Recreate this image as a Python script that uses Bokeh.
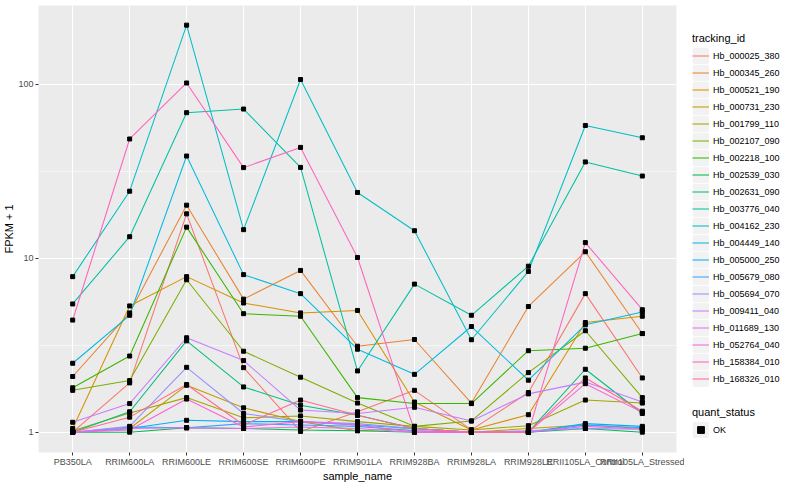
from bokeh.plotting import figure
from bokeh.models import (FactorRange, Range1d, FixedTicker, Legend, LegendItem,
                          ColumnDataSource)
from bokeh.layouts import row
from bokeh.embed import file_html
from bokeh.resources import INLINE

# ---------------- data ----------------
samples = ["PB350LA", "RRIM600LA", "RRIM600LE", "RRIM600SE", "RRIM600PE",
           "RRIM901LA", "RRIM928BA", "RRIM928LA", "RRIM928LE",
           "RRII105LA_Control", "RRII105LA_Stressed"]

tracking_ids = ["Hb_000025_380", "Hb_000345_260", "Hb_000521_190", "Hb_000731_230",
                "Hb_001799_110", "Hb_002107_090", "Hb_002218_100", "Hb_002539_030",
                "Hb_002631_090", "Hb_003776_040", "Hb_004162_230", "Hb_004449_140",
                "Hb_005000_250", "Hb_005679_080", "Hb_005694_070", "Hb_009411_040",
                "Hb_011689_130", "Hb_052764_040", "Hb_158384_010", "Hb_168326_010"]

colors = ["#F8766D", "#EA8331", "#D89000", "#C09B00", "#A3A500", "#7CAE00",
          "#39B600", "#00BB4E", "#00BF7D", "#00C1A3", "#00BFC4", "#00BAE0",
          "#00B0F6", "#35A2FF", "#9590FF", "#C77CFF", "#E76BF3", "#FA62DB",
          "#FF62BC", "#FF6C91"]

# FPKM + 1 per sample (order of `samples`)
hb_000025_380 = [1.00, 1.92, 18.0, 2.35, 1.01, 1.31, 1.74, 1.03, 1.69, 6.26, 2.05]
hb_000345_260 = [2.09, 4.85, 20.2, 5.82, 8.51, 3.12, 3.41, 1.47, 5.28, 10.9, 3.69]
hb_000521_190 = [1.05, 5.32, 7.84, 5.53, 4.85, 5.01, 1.49, 1.03, 1.26, 4.27, 4.64]
hb_000731_230 = [1.00, 1.05, 1.86, 1.38, 1.15, 1.02, 1.05, 1.00, 1.05, 1.10, 1.05]
hb_001799_110 = [1.02, 1.29, 1.58, 1.21, 1.24, 1.15, 1.08, 1.03, 1.09, 1.53, 1.47]
hb_002107_090 = [1.74, 1.98, 7.52, 2.92, 2.07, 1.47, 1.08, 1.16, 2.20, 3.83, 1.58]
hb_002218_100 = [1.80, 2.74, 15.1, 4.80, 4.64, 1.58, 1.46, 1.46, 2.94, 3.04, 3.69]
hb_002539_030 = [1.00, 1.00, 1.06, 1.05, 1.03, 1.02, 1.00, 1.00, 1.00, 1.05, 1.00]
hb_002631_090 = [1.00, 1.31, 3.35, 1.82, 1.43, 1.25, 1.05, 1.00, 1.00, 2.30, 1.28]
hb_003776_040 = [5.46, 13.3, 68.7, 72.1, 33.3, 2.25, 7.10, 4.70, 9.00, 35.8, 29.7]
hb_004162_230 = [7.84, 24.3, 219.0, 14.6, 106.6, 23.9, 14.4, 3.40, 8.40, 58.0, 49.3]
hb_004449_140 = [2.49, 4.70, 38.7, 8.05, 6.26, 3.00, 2.15, 4.05, 1.99, 4.14, 4.91]
hb_005000_250 = [1.00, 1.05, 1.17, 1.15, 1.15, 1.10, 1.05, 1.00, 1.00, 1.12, 1.08]
hb_005679_080 = [1.00, 1.07, 1.06, 1.12, 1.10, 1.08, 1.02, 1.00, 1.00, 1.10, 1.06]
hb_005694_070 = [1.00, 1.08, 2.36, 1.28, 1.15, 1.12, 1.05, 1.00, 1.02, 1.05, 1.04]
hb_009411_040 = [1.14, 1.46, 3.49, 2.58, 1.34, 1.28, 1.39, 1.16, 1.66, 1.94, 1.49]
hb_011689_130 = [1.00, 1.05, 1.06, 1.05, 1.07, 1.05, 1.00, 1.00, 1.00, 1.08, 1.04]
hb_052764_040 = [1.00, 1.03, 1.55, 1.07, 1.15, 1.10, 1.00, 1.00, 1.00, 1.90, 1.30]
hb_158384_010 = [4.41, 48.5, 101.8, 33.2, 43.4, 10.1, 1.02, 1.00, 1.00, 12.3, 5.06]
hb_168326_010 = [1.00, 1.22, 1.88, 1.10, 1.53, 1.25, 1.05, 1.00, 1.00, 2.05, 1.32]

series = [hb_000025_380, hb_000345_260, hb_000521_190, hb_000731_230, hb_001799_110,
          hb_002107_090, hb_002218_100, hb_002539_030, hb_002631_090, hb_003776_040,
          hb_004162_230, hb_004449_140, hb_005000_250, hb_005679_080, hb_005694_070,
          hb_009411_040, hb_011689_130, hb_052764_040, hb_158384_010, hb_168326_010]

y_ticks = [1, 10, 100]
y_tick_labels = ["1", "10", "100"]
y_minor = [3.162, 31.62]
quant_status = ["OK"]

FONT = "Liberation Sans"

# ---------------- main plot ----------------
p = figure(width=684, height=484,
           x_range=FactorRange(factors=samples, range_padding=0.1,
                               range_padding_units="absolute"),
           y_range=Range1d(0.764, 284.0), y_axis_type="log",
           toolbar_location=None, output_backend="svg",
           min_border_left=30, min_border_right=8, min_border_top=5,
           min_border_bottom=0,
           background_fill_color="#EBEBEB", border_fill_color="white",
           outline_line_color=None)

p.yaxis.ticker = FixedTicker(ticks=y_ticks, minor_ticks=y_minor)
p.yaxis.major_label_overrides = dict(zip(y_ticks, y_tick_labels))

p.xgrid.grid_line_color = "white"
p.xgrid.grid_line_width = 1.1
p.ygrid.grid_line_color = "white"
p.ygrid.grid_line_width = 1.1
p.ygrid.minor_grid_line_color = "white"
p.ygrid.minor_grid_line_width = 0.55

for ax in (p.xaxis, p.yaxis):
    ax.axis_line_color = None
    ax.major_tick_line_color = "#333333"
    ax.major_tick_out = 3
    ax.major_tick_in = 0
    ax.minor_tick_line_color = None
    ax.major_label_text_font = FONT
    ax.major_label_text_font_size = "9px"
    ax.major_label_text_color = "#4D4D4D"
    ax.major_label_standoff = 1
    ax.axis_label_text_font = FONT
    ax.axis_label_text_font_size = "11px"
    ax.axis_label_text_font_style = "normal"
    ax.axis_label_text_color = "black"
    ax.axis_label_standoff = 0

p.xaxis.axis_label = "sample_name"
p.yaxis.axis_label = "FPKM + 1"

for vals, col in zip(series, colors):
    p.line(x=samples, y=vals, line_color=col, line_width=1.05)

px, py = [], []
for vals in series:
    px.extend(samples)
    py.extend(vals)
p.scatter(x="x", y="y", source=ColumnDataSource(dict(x=px, y=py)),
          marker="square", size=4, color="black")

# ---------------- legend panel ----------------
leg = figure(width=100, height=484, x_range=Range1d(0, 1), y_range=Range1d(0, 1),
             toolbar_location=None, output_backend="svg",
             x_axis_location=None, y_axis_location=None,
             min_border_left=8, min_border_right=0,
             min_border_top=5, min_border_bottom=30,
             outline_line_color=None,
             background_fill_color="white", border_fill_color="white")
leg.xgrid.visible = False
leg.ygrid.visible = False

# legend-only renderers, kept outside the visible range of this panel
key_bg = leg.quad(left=[2], right=[3], top=[3], bottom=[2], fill_color="#F2F2F2",
                  line_color="#F2F2F2", line_width=3)

items = []
for tid, col in zip(tracking_ids, colors):
    lr = leg.line(x=[2, 3], y=[2, 2], line_color=col, line_width=1.05)
    items.append(LegendItem(label=tid, renderers=[key_bg, lr]))

pt = leg.scatter(x=[2], y=[2], marker="square", size=4, color="black")
items2 = [LegendItem(label=q, renderers=[key_bg, pt]) for q in quant_status]


def style(lg):
    lg.glyph_width = 17
    lg.glyph_height = 17
    lg.label_height = 17
    lg.spacing = 0
    lg.padding = 0
    lg.margin = 0
    lg.border_line_color = None
    lg.background_fill_alpha = 0
    lg.label_text_font = FONT
    lg.label_text_font_size = "9px"
    lg.label_text_color = "black"
    lg.label_standoff = 4
    lg.title_text_font = FONT
    lg.title_text_font_size = "11px"
    lg.title_text_font_style = "normal"
    lg.title_text_color = "black"
    lg.title_standoff = 3


lg1 = Legend(items=items, title="tracking_id", location=(0, 65))
style(lg1)
lg2 = Legend(items=items2, title="quant_status", location=(0, 14))
style(lg2)
leg.add_layout(lg1, "center")
leg.add_layout(lg2, "center")

layout = row(p, leg)
open("out.html", "w").write(file_html(layout, INLINE))
